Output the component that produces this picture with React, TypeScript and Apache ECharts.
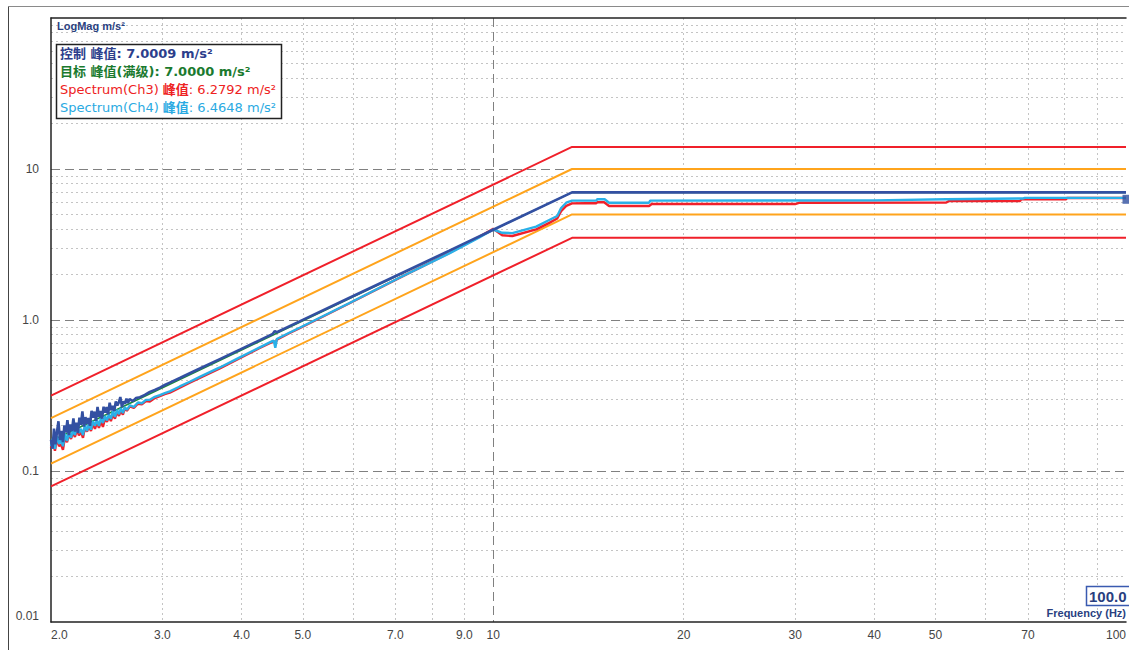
import React, { useEffect, useRef } from "react";
import * as echarts from "echarts";

// ---------- tick / grid values ----------
const xTickLabels = [2, 3, 4, 5, 7, 9, 10, 20, 30, 40, 50, 70, 100];
const xMinorGrid = [3, 4, 5, 6, 7, 8, 9, 20, 30, 40, 50, 60, 70, 80, 90];
const xMajorGrid = [10];
const yTickLabels = [0.01, 0.1, 1, 10];
const yMinorGrid = [
  0.02, 0.03, 0.04, 0.05, 0.06, 0.07, 0.08, 0.09,
  0.2, 0.3, 0.4, 0.5, 0.6, 0.7, 0.8, 0.9,
  2, 3, 4, 5, 6, 7, 8, 9,
  20, 30, 40, 50, 60, 70, 80, 90,
];
const yMajorGrid = [0.1, 1, 10];

// ---------- profile & limits [Hz, m/s²] ----------
const targetProfile = [[2, 0.158], [13.32, 7.0], [100, 7.0]];
const abortHigh = [[2, 0.316], [13.32, 14.0], [100, 14.0]];
const alarmHigh = [[2, 0.224], [13.32, 10.0], [100, 10.0]];
const alarmLow = [[2, 0.112], [13.32, 5.0], [100, 5.0]];
const abortLow = [[2, 0.079], [13.32, 3.5], [100, 3.5]];

// ---------- measured curves [Hz, m/s²] ----------
const controlCurve = [
  [2.0, 0.161], [2.011, 0.1405], [2.022, 0.1906], [2.033, 0.1502], [2.044, 0.1815], [2.055, 0.2135],
  [2.066, 0.1602], [2.077, 0.184], [2.089, 0.1552], [2.1, 0.2003], [2.112, 0.1797], [2.123, 0.2172],
  [2.135, 0.1728], [2.146, 0.2037], [2.158, 0.184], [2.17, 0.2232], [2.182, 0.1825], [2.194, 0.2091],
  [2.206, 0.1787], [2.218, 0.2254], [2.23, 0.2023], [2.242, 0.2483], [2.255, 0.1969], [2.267, 0.2274],
  [2.28, 0.2053], [2.292, 0.2241], [2.305, 0.1994], [2.318, 0.2504], [2.33, 0.2251], [2.343, 0.2472],
  [2.356, 0.2149], [2.369, 0.266], [2.382, 0.2286], [2.395, 0.2493], [2.408, 0.2221], [2.422, 0.2665],
  [2.435, 0.2436], [2.449, 0.2653], [2.462, 0.237], [2.476, 0.2834], [2.49, 0.2522], [2.504, 0.27],
  [2.518, 0.2504], [2.532, 0.2886], [2.546, 0.2715], [2.56, 0.2848], [2.574, 0.3088], [2.589, 0.2648],
  [2.603, 0.289], [2.618, 0.2788], [2.632, 0.301], [2.647, 0.2823], [2.662, 0.2995], [2.694, 0.29],
  [2.724, 0.304], [2.764, 0.308], [2.814, 0.319], [2.866, 0.334], [2.918, 0.344], [2.972, 0.357],
  [3.026, 0.371], [3.082, 0.385], [3.196, 0.413], [3.314, 0.444], [3.437, 0.477], [3.697, 0.551],
  [3.976, 0.636], [4.276, 0.736], [4.483, 0.81], [4.516, 0.845], [4.549, 0.83], [4.943, 0.98],
  [5.927, 1.405], [7.107, 2.01], [8.522, 2.88], [10.0, 3.96], [13.32, 7.0], [100, 7.0],
];

const ch3Curve = [
  [2.0, 0.142], [2.015, 0.158], [2.029, 0.136], [2.044, 0.166], [2.059, 0.146], [2.074, 0.15],
  [2.089, 0.138], [2.105, 0.17], [2.12, 0.155], [2.135, 0.176], [2.151, 0.163], [2.167, 0.18],
  [2.182, 0.168], [2.198, 0.188], [2.214, 0.172], [2.231, 0.181], [2.247, 0.166], [2.263, 0.195],
  [2.28, 0.182], [2.296, 0.198], [2.313, 0.184], [2.33, 0.206], [2.347, 0.19], [2.364, 0.21],
  [2.381, 0.193], [2.399, 0.214], [2.416, 0.196], [2.434, 0.222], [2.452, 0.212], [2.469, 0.23],
  [2.487, 0.214], [2.506, 0.24], [2.524, 0.222], [2.542, 0.246], [2.561, 0.232], [2.579, 0.25],
  [2.598, 0.236], [2.617, 0.262], [2.636, 0.25], [2.665, 0.268], [2.704, 0.262], [2.744, 0.279],
  [2.784, 0.276], [2.825, 0.29], [2.866, 0.288], [2.918, 0.304], [2.972, 0.313], [3.026, 0.323],
  [3.082, 0.33], [3.196, 0.356], [3.314, 0.384], [3.437, 0.414], [3.697, 0.478], [3.976, 0.558],
  [4.276, 0.652], [4.467, 0.714], [4.499, 0.725], [4.524, 0.69], [4.549, 0.742], [4.768, 0.82],
  [4.943, 0.882], [5.927, 1.29], [7.107, 1.9], [8.522, 2.78], [9.505, 3.56], [10.0, 4.02],
  [10.33, 3.64], [10.72, 3.6], [11.69, 3.98], [12.26, 4.4], [12.62, 4.7], [12.8, 5.25],
  [13.04, 5.7], [13.32, 5.92], [14.0, 5.93], [14.55, 5.93], [14.6, 6.02], [14.97, 6.02],
  [15.24, 5.69], [17.63, 5.69], [17.8, 5.86], [30.0, 5.86], [30.5, 5.98], [52.0, 6.0],
  [52.5, 6.13], [68.0, 6.13], [68.3, 6.3], [80.4, 6.3], [80.6, 6.42], [100, 6.42],
];

const ch4Curve = [
  [2.0, 0.146], [2.015, 0.165], [2.029, 0.14], [2.044, 0.171], [2.059, 0.151], [2.074, 0.16],
  [2.089, 0.146], [2.105, 0.176], [2.12, 0.158], [2.135, 0.181], [2.151, 0.166], [2.167, 0.187],
  [2.182, 0.173], [2.198, 0.196], [2.214, 0.179], [2.231, 0.19], [2.247, 0.173], [2.263, 0.202],
  [2.28, 0.184], [2.296, 0.205], [2.313, 0.188], [2.33, 0.214], [2.347, 0.199], [2.364, 0.218],
  [2.381, 0.199], [2.399, 0.224], [2.416, 0.208], [2.434, 0.231], [2.452, 0.216], [2.469, 0.238],
  [2.487, 0.221], [2.506, 0.25], [2.524, 0.228], [2.542, 0.254], [2.561, 0.238], [2.579, 0.261],
  [2.598, 0.242], [2.617, 0.265], [2.636, 0.254], [2.665, 0.272], [2.704, 0.266], [2.744, 0.284],
  [2.784, 0.281], [2.825, 0.296], [2.866, 0.296], [2.918, 0.31], [2.972, 0.318], [3.026, 0.328],
  [3.082, 0.337], [3.196, 0.363], [3.314, 0.39], [3.437, 0.42], [3.697, 0.485], [3.976, 0.566],
  [4.276, 0.659], [4.467, 0.721], [4.499, 0.731], [4.524, 0.655], [4.549, 0.748], [4.768, 0.826],
  [4.943, 0.888], [5.927, 1.296], [7.107, 1.905], [8.522, 2.763], [9.505, 3.52], [10.0, 3.975],
  [10.33, 3.78], [10.72, 3.76], [11.69, 4.149], [12.26, 4.595], [12.62, 4.884], [12.8, 5.516],
  [13.04, 5.98], [13.32, 6.17], [14.55, 6.17], [14.6, 6.3], [15.0, 6.3], [15.24, 5.98],
  [17.63, 5.98], [17.7, 6.17], [40.0, 6.2], [52.0, 6.3], [68.8, 6.38], [69.2, 6.44], [100, 6.44],
];

const cursorPoint = [[100, 6.3]];

// ---------- legend texts ----------
const legendLines = [
  { text: "{b|控制 峰值: 7.0009 m/s²}", color: "#2c3e8c" },
  { text: "{b|目标 峰值(满级): 7.0000 m/s²}", color: "#1a7a2e" },
  { text: "{n|Spectrum(Ch3) }{b|峰值}{n|: 6.2792 m/s²}", color: "#ee2222" },
  { text: "{n|Spectrum(Ch4) }{b|峰值}{n|: 6.4648 m/s²}", color: "#2aaae2" },
];

const COLORS = {
  red: "#f0202a",
  orange: "#ffa41c",
  blue: "#3350a2",
  cyan: "#2ab0e8",
  green: "#1a8a3a",
};

const FONT = "'DejaVu Sans', 'Noto Sans CJK SC', sans-serif";
const AXFONT = "'Liberation Sans', Arial, sans-serif";

const fmtX = (v: number) => {
  const r = Math.round(v * 1000) / 1000;
  return r >= 10 ? String(Math.round(r)) : r.toFixed(1);
};
const fmtY = (v: number) => (v < 0.05 ? "0.01" : v < 0.5 ? "0.1" : v < 5 ? "1.0" : "10");

export default function App() {
  const ref = useRef<HTMLDivElement>(null);

  useEffect(() => {
    if (!ref.current) return;
    const chart = echarts.init(ref.current, undefined, { renderer: "svg" });

    const logX = { type: "log", logBase: 10, min: 2, max: 100, gridIndex: 0 };
    const logY = { type: "log", logBase: 10, min: 0.01, max: 100, gridIndex: 0 };
    const dotted = { color: "#c4c4c4", type: [2, 3], width: 1 };
    const dashed = { color: "#808080", type: [9, 5], width: 1 };

    const line = (name: string, data: number[][], color: string, width: number, z: number) => ({
      type: "line",
      name,
      data,
      xAxisIndex: 0,
      yAxisIndex: 0,
      showSymbol: false,
      symbol: "none",
      silent: true,
      lineStyle: { color, width },
      itemStyle: { color },
      z,
    });

    const legendGraphics: any[] = legendLines.map((l, i) => ({
      type: "text",
      x: 60,
      y: 53 + i * 18,
      z: 101,
      silent: true,
      style: {
        text: l.text,
        verticalAlign: "middle",
        rich: {
          b: { fill: l.color, fontSize: 13, fontWeight: "bold", fontFamily: FONT },
          n: { fill: l.color, fontSize: 13, fontWeight: "normal", fontFamily: FONT },
        },
      },
    }));

    chart.setOption({
      animation: false,
      backgroundColor: "#ffffff",
      grid: { left: 51, top: 18, right: 1, bottom: 28, containLabel: false },
      xAxis: [
        {
          ...logX,
          position: "bottom",
          axisLine: { show: true, onZero: false, lineStyle: { color: "#222", width: 1.5 } },
          axisTick: { show: false, customValues: xTickLabels },
          axisLabel: {
            customValues: xTickLabels,
            formatter: fmtX,
            color: "#444",
            fontSize: 12,
            fontFamily: AXFONT,
            margin: 7,
            alignMinLabel: "left",
            alignMaxLabel: "right",
          },
          splitLine: { show: false },
          minorTick: { show: false },
          minorSplitLine: { show: false },
        },
        {
          ...logX,
          position: "bottom",
          axisLine: { show: false },
          axisTick: { show: false, customValues: xMinorGrid },
          axisLabel: { show: false },
          splitLine: { show: true, lineStyle: dotted },
        },
        {
          ...logX,
          position: "top",
          axisLine: { show: true, onZero: false, lineStyle: { color: "#222", width: 1.5 } },
          axisTick: { show: false, customValues: xMajorGrid },
          axisLabel: { show: false },
          splitLine: { show: true, lineStyle: dashed },
        },
      ],
      yAxis: [
        {
          ...logY,
          position: "left",
          axisLine: { show: true, onZero: false, lineStyle: { color: "#222", width: 1.5 } },
          axisTick: { show: false, customValues: yTickLabels },
          axisLabel: {
            customValues: yTickLabels,
            formatter: fmtY,
            color: "#444",
            fontSize: 12,
            fontFamily: AXFONT,
            margin: 12,
            verticalAlignMinLabel: "bottom",
          },
          splitLine: { show: false },
        },
        {
          ...logY,
          position: "left",
          axisLine: { show: false },
          axisTick: { show: false, customValues: yMinorGrid },
          axisLabel: { show: false },
          splitLine: { show: true, lineStyle: dotted },
        },
        {
          ...logY,
          position: "left",
          axisLine: { show: false },
          axisTick: { show: false, customValues: yMajorGrid },
          axisLabel: { show: false },
          splitLine: { show: true, lineStyle: dashed },
        },
      ],
      series: [
        line("abortHigh", abortHigh, COLORS.red, 2, 3),
        line("alarmHigh", alarmHigh, COLORS.orange, 2, 3),
        line("alarmLow", alarmLow, COLORS.orange, 2, 3),
        line("abortLow", abortLow, COLORS.red, 2, 3),
        line("目标", targetProfile, COLORS.green, 1.5, 4),
        line("Spectrum(Ch3)", ch3Curve, COLORS.red, 2.4, 5),
        line("Spectrum(Ch4)", ch4Curve, COLORS.cyan, 2.4, 6),
        line("控制", controlCurve, COLORS.blue, 2.6, 7),
        {
          type: "scatter",
          name: "cursor",
          data: cursorPoint,
          xAxisIndex: 0,
          yAxisIndex: 0,
          symbol: "rect",
          symbolSize: [7, 9],
          itemStyle: { color: "#2f4f9f" },
          silent: true,
          clip: false,
          z: 8,
        },
      ],
      graphic: [
        { type: "line", silent: true, z: 100, shape: { x1: 8.5, y1: 6.5, x2: 1129, y2: 6.5 }, style: { stroke: "#8a8a8a", lineWidth: 1 } },
        { type: "line", silent: true, z: 100, shape: { x1: 8.5, y1: 6.5, x2: 8.5, y2: 650 }, style: { stroke: "#444", lineWidth: 1 } },
        {
          type: "text",
          x: 57,
          y: 26,
          z: 100,
          silent: true,
          style: { text: "LogMag m/s²", fill: "#2a3f7f", fontSize: 11, fontWeight: "bold", fontFamily: AXFONT, verticalAlign: "middle" },
        },
        {
          type: "rect",
          z: 100,
          silent: true,
          shape: { x: 56.5, y: 44.5, width: 225, height: 74 },
          style: { fill: "#ffffff", stroke: "#222", lineWidth: 1.5 },
        },
        ...legendGraphics,
        {
          type: "rect",
          z: 100,
          silent: true,
          shape: { x: 1086.5, y: 586.5, width: 44, height: 19 },
          style: { fill: "#ffffff", stroke: "#3a5ab0", lineWidth: 1.5 },
        },
        {
          type: "text",
          x: 1089,
          y: 596.5,
          z: 101,
          silent: true,
          style: { text: "100.0", fill: "#2a3f7f", fontSize: 15, fontWeight: "bold", fontFamily: AXFONT, verticalAlign: "middle" },
        },
        {
          type: "text",
          x: 1126,
          y: 613,
          z: 100,
          silent: true,
          style: { text: "Frequency (Hz)", fill: "#2a3f7f", fontSize: 11, fontWeight: "bold", fontFamily: AXFONT, align: "right", verticalAlign: "middle" },
        },
      ],
    } as any);

    return () => chart.dispose();
  }, []);

  return (
    <div
      ref={ref}
      style={{ position: "fixed", left: 0, top: 0, width: 1129, height: 650, background: "#fff" }}
    />
  );
}
